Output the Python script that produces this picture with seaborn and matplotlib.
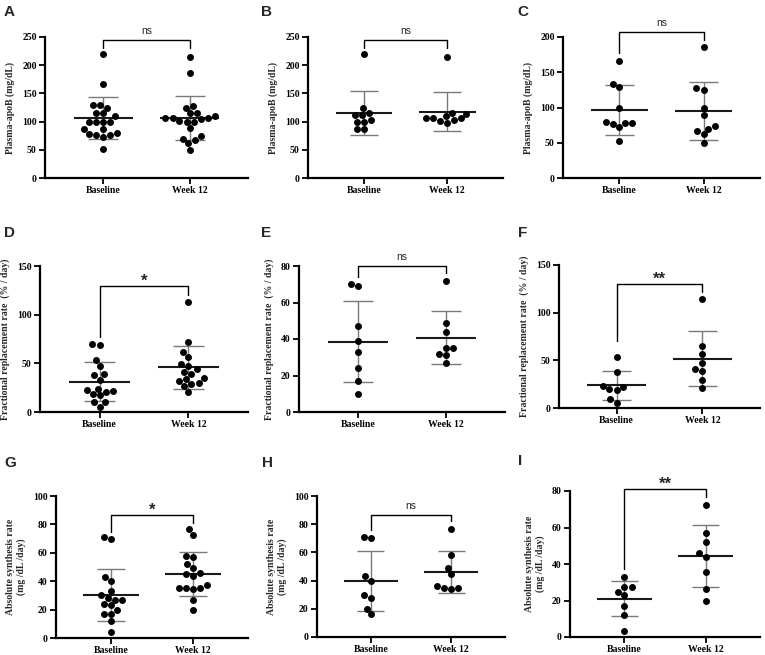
import numpy as np
import pandas as pd
import matplotlib
matplotlib.use('Agg')
import matplotlib.pyplot as plt
import seaborn as sns

# 分组
groups = ['Baseline', 'Week 12']

# A-C: plasma apoB (mg/dL)
a_baseline = [219, 166, 130, 129, 125, 116, 115, 110, 100, 100, 100, 100, 86, 86, 79, 78, 77, 77, 72, 52]
a_week12 = [215, 186, 127, 125, 116, 115, 110, 106, 106, 106, 104, 101, 100, 100, 89, 74, 70, 67, 62, 50]
b_baseline = [219, 124, 116, 112, 111, 102, 100, 99, 86, 86]
b_week12 = [215, 116, 114, 110, 106, 106, 106, 103, 101, 98]
c_baseline = [166, 133, 129, 100, 80, 78, 78, 77, 72, 52]
c_week12 = [186, 127, 125, 99, 89, 74, 70, 67, 62, 50]

# D-F: fractional replacement rate (% / day)
d_baseline = [70, 69, 53, 47, 39, 38, 33, 24, 23, 22, 21, 19, 17, 10, 10, 5]
d_week12 = [113, 72, 62, 57, 49, 47, 44, 41, 39, 35, 34, 32, 30, 29, 27, 21]
e_baseline = [70, 69, 47, 39, 33, 24, 17, 10]
e_week12 = [72, 49, 44, 35, 35, 32, 31, 27]
f_baseline = [53, 38, 23, 22, 20, 19, 9, 5]
f_week12 = [114, 65, 57, 47, 41, 39, 29, 21]

# G-I: absolute synthesis rate (mg/dL/day)
g_baseline = [71, 70, 43, 40, 33, 30, 28, 27, 27, 24, 23, 20, 17, 17, 12, 4]
g_week12 = [76.5, 72.5, 58, 57, 52, 49.5, 46, 45, 44, 37, 35.5, 35, 35, 34.5, 26.5, 19.5]
h_baseline = [71, 70, 43, 40, 30, 28, 20, 16]
h_week12 = [76.5, 58, 49, 44.5, 36.5, 35, 34.5, 34]
i_baseline = [33, 27.5, 27.5, 24.5, 23, 17, 12, 3.5]
i_week12 = [72.5, 57, 52, 46, 44, 35.5, 26.5, 20]

panel_letters = ['A', 'B', 'C', 'D', 'E', 'F', 'G', 'H', 'I']
sig_labels = ['ns', 'ns', 'ns', '*', 'ns', '**', '*', 'ns', '**']

ylabel_apob = 'Plasma-apoB (mg/dL)'
ylabel_frr = 'Fractional replacement rate  (% / day)'
ylabel_asr = 'Absolute synthesis rate\n(mg /dL /day)'

sns.set_theme(style='ticks')
plt.rcParams['font.family'] = ['Liberation Serif', 'DejaVu Serif']

W, H = 765, 655


def px_rect(l, t, r, b):
    """像素坐标 -> figure 坐标"""
    return [l / W, 1 - b / H, (r - l) / W, (b - t) / H]


def draw_panel(ax, base, week, ytop, ystep, ylabel, sig, legs, bar_y):
    df = pd.DataFrame({
        'group': [groups[0]] * len(base) + [groups[1]] * len(week),
        'value': base + week,
    })
    ax.set_xlim(-0.67, 1.67)
    ax.set_ylim(0, ytop)

    # mean ± SD
    for i, vals in enumerate([base, week]):
        m = np.mean(vals)
        sd = np.std(vals, ddof=1)
        ax.vlines(i, m - sd, m + sd, color='#7a7a7a', lw=1.0, zorder=2)
        ax.hlines([m - sd, m + sd], i - 0.17, i + 0.17, color='#7a7a7a', lw=1.0, zorder=2)
        ax.hlines(m, i - 0.34, i + 0.34, color='#1a1a1a', lw=1.5, zorder=2)

    sns.swarmplot(data=df, x='group', y='value', order=groups, color='black',
                  size=5, ax=ax, zorder=3)
    ax.set_xlim(-0.67, 1.67)
    ax.set_ylim(0, ytop)

    # 显著性括号
    ax.plot([0, 0, 1, 1], [legs[0], bar_y, bar_y, legs[1]], color='black',
            lw=1.0, clip_on=False)
    if sig == 'ns':
        ax.annotate(sig, (0.5, bar_y), xytext=(0, 3), textcoords='offset points',
                    ha='center', va='bottom', fontsize=7.5,
                    family=['Liberation Sans', 'DejaVu Sans'], annotation_clip=False)
    else:
        ax.annotate(sig, (0.5, bar_y), xytext=(0, -2), textcoords='offset points',
                    ha='center', va='bottom', fontsize=12, fontweight='bold',
                    family=['Liberation Sans', 'DejaVu Sans'], annotation_clip=False)

    ax.set_yticks(np.arange(0, ytop + 0.1, ystep))
    ax.set_xlabel('')
    ax.set_ylabel(ylabel, fontsize=7, fontweight='bold', labelpad=5)
    for lab in ax.get_xticklabels() + ax.get_yticklabels():
        lab.set_fontweight('bold')
        lab.set_fontsize(7)
    ax.tick_params(direction='out', length=4, width=1.3, pad=2, colors='black')
    sns.despine(ax=ax)
    for s in ['left', 'bottom']:
        ax.spines[s].set_linewidth(1.6)
        ax.spines[s].set_color('black')


fig = plt.figure(figsize=(W / 100, H / 100), dpi=100)

rects = [
    (45, 37, 248, 178), (308, 37, 503, 178), (563, 37, 760, 178),
    (40, 266, 248, 412), (299, 266, 505, 412), (559, 265, 760, 408),
    (56, 496, 248, 638), (317, 496, 505, 637), (570, 491, 760, 637),
]
datasets = [
    (a_baseline, a_week12), (b_baseline, b_week12), (c_baseline, c_week12),
    (d_baseline, d_week12), (e_baseline, e_week12), (f_baseline, f_week12),
    (g_baseline, g_week12), (h_baseline, h_week12), (i_baseline, i_week12),
]
ytops = [250, 250, 200, 150, 80, 150, 100, 100, 80]
ysteps = [50, 50, 50, 50, 20, 50, 20, 20, 20]
ylabels = [ylabel_apob] * 3 + [ylabel_frr] * 3 + [ylabel_asr] * 3
# 括号：左/右腿底部, 横线高度
bracket_legs = [(230, 230), (230, 230), (177, 196), (77, 120), (74, 76),
                (70, 122), (75, 81), (76, 82), (37, 76.5)]
bracket_bars = [245, 245, 207.5, 129, 80, 130, 86.6, 86.5, 81]
letter_pos = [(4, 5), (261, 5), (517, 5), (4, 226), (261, 226), (518, 226),
              (4, 456), (262, 456), (518, 454)]

for k in range(9):
    ax = fig.add_axes(px_rect(*rects[k]))
    base, week = datasets[k]
    draw_panel(ax, base, week, ytops[k], ysteps[k], ylabels[k], sig_labels[k],
               bracket_legs[k], bracket_bars[k])
    lx, ly = letter_pos[k]
    fig.text(lx / W, 1 - ly / H, panel_letters[k], ha='left', va='top',
             fontsize=11, fontweight='bold', family=['Liberation Sans', 'DejaVu Sans'])

fig.savefig('out.png', dpi=100)
